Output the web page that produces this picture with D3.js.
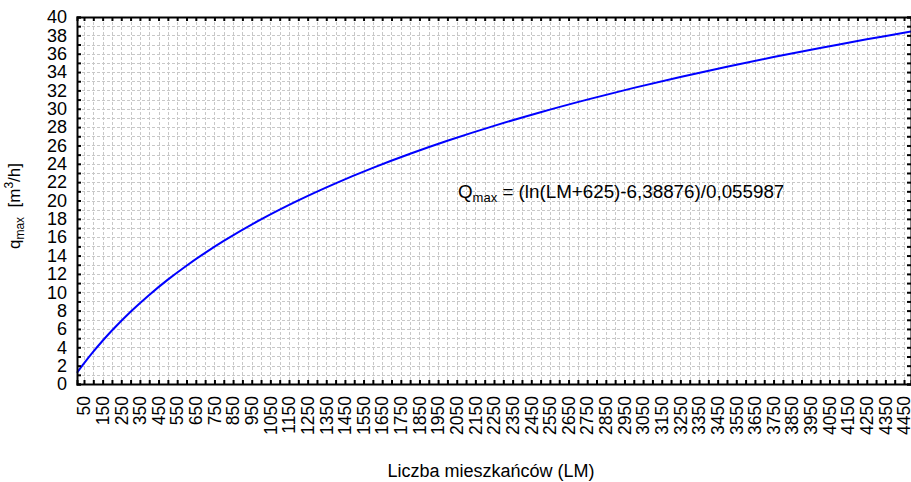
<!DOCTYPE html>
<html>
<head>
<meta charset="utf-8">
<script src="https://cdn.jsdelivr.net/npm/d3@7"></script>
<style>
  html, body { margin: 0; padding: 0; background: #fff; }
  svg { display: block; font-family: "Liberation Sans", Arial, sans-serif; }
</style>
</head>
<body>
<svg id="chart" width="911" height="482"></svg>
<script>
// Population equivalent (LM) and peak flow q_max [m3/h]
const lmValues = [12.5, 50, 100, 150, 200, 300, 400, 500, 600, 700, 800, 1000, 1200, 1400,
  1600, 1800, 2000, 2250, 2500, 2750, 3000, 3250, 3500, 3750, 4000, 4250, 4487.5];
const qValues = [1.229, 2.250, 3.526, 4.717, 5.834, 7.877, 9.711, 11.374, 12.895, 14.296,
  15.596, 17.942, 20.015, 21.872, 23.555, 25.092, 26.508, 28.132, 29.622, 30.996,
  32.273, 33.464, 34.581, 35.632, 36.624, 37.564, 38.414];

// Axis ticks and labels
const xDomain = [12.5, 4487.5];
const xTickLabels = [50, 150, 250, 350, 450, 550, 650, 750, 850, 950, 1050, 1150, 1250,
  1350, 1450, 1550, 1650, 1750, 1850, 1950, 2050, 2150, 2250, 2350, 2450, 2550, 2650,
  2750, 2850, 2950, 3050, 3150, 3250, 3350, 3450, 3550, 3650, 3750, 3850, 3950, 4050,
  4150, 4250, 4350, 4450];
const xMinorStep = 50;
const yDomain = [0, 40];
const yTickLabels = [0, 2, 4, 6, 8, 10, 12, 14, 16, 18, 20, 22, 24, 26, 28, 30, 32, 34, 36, 38, 40];

const xTitle = "Liczba mieszkańców (LM)";
const equation = { main: "Q", sub: "max", rest: " = (ln(LM+625)-6,38876)/0,055987" };

const plot = { left: 77, right: 911, top: 17, bottom: 384 };
const svg = d3.select("#chart");

const x = d3.scaleLinear().domain(xDomain).range([plot.left, plot.right]);
const y = d3.scaleLinear().domain(yDomain).range([plot.bottom, plot.top]);

// every grid step on x and y
const xGrid = [];
for (let v = xTickLabels[0]; v <= xDomain[1]; v += xMinorStep) xGrid.push(v);
const yGrid = d3.range(yDomain[0], yDomain[1] + 1, 1);

// dashed grid
const grid = svg.append("g").attr("stroke", "#c8c8c8").attr("stroke-width", 1)
  .attr("stroke-dasharray", "3,2").attr("shape-rendering", "crispEdges");
grid.selectAll("line.v").data(xGrid).join("line").attr("class", "v")
  .attr("x1", d => Math.round(x(d)) + 0.5).attr("x2", d => Math.round(x(d)) + 0.5)
  .attr("y1", plot.top).attr("y2", plot.bottom);
grid.selectAll("line.h").data(yGrid.filter(d => d > yDomain[0] && d < yDomain[1])).join("line").attr("class", "h")
  .attr("y1", d => Math.round(y(d)) + 0.5).attr("y2", d => Math.round(y(d)) + 0.5)
  .attr("x1", plot.left).attr("x2", plot.right);

// curve
const line = d3.line().x((d, i) => x(lmValues[i])).y(d => y(d)).curve(d3.curveCatmullRom.alpha(0.5));
svg.append("path").datum(qValues).attr("d", line)
  .attr("fill", "none").attr("stroke", "#0000ff").attr("stroke-width", 2);

// axes with inward ticks
const tickLen = 4;
const yAxis = d3.axisLeft(y).tickValues(yGrid).tickSize(-tickLen).tickPadding(10)
  .tickFormat(d => yTickLabels.includes(d) ? d : "");
const gy = svg.append("g").attr("transform", `translate(${plot.left},0)`).call(yAxis);

const xAxis = d3.axisBottom(x).tickValues(xGrid).tickSize(-tickLen).tickPadding(0)
  .tickFormat(d => xTickLabels.includes(d) ? d : "");
const gx = svg.append("g").attr("transform", `translate(0,${plot.bottom})`).call(xAxis);

const gTop = svg.append("g").attr("transform", `translate(0,${plot.top})`)
  .call(d3.axisTop(x).tickValues(xGrid).tickSize(-tickLen).tickFormat(""));
const gRight = svg.append("g").attr("transform", `translate(${plot.right},0)`)
  .call(d3.axisRight(y).tickValues(yGrid).tickSize(-tickLen).tickFormat(""));

[gx, gy, gTop, gRight].forEach(g => {
  g.select(".domain").attr("stroke", "#000").attr("stroke-width", 2);
  g.selectAll(".tick line").attr("stroke", "#000").attr("stroke-width", 2);
  g.selectAll("text").attr("font-size", 18).attr("fill", "#000")
    .attr("font-family", "'Liberation Sans', Arial, sans-serif");
});

// rotated x labels, reading upwards
gx.selectAll("text")
  .attr("y", 0).attr("x", 0).attr("dy", "0.33em")
  .attr("font-size", 17.5)
  .attr("text-anchor", "end")
  .attr("transform", "translate(0,12) rotate(-90)");

// axis titles
svg.append("text").attr("x", 491).attr("y", 477).attr("text-anchor", "middle")
  .attr("font-size", 18).text(xTitle);

const yt = svg.append("text").attr("transform", "translate(20,206) rotate(-90)")
  .attr("text-anchor", "middle").attr("font-size", 17);
yt.append("tspan").text("q");
yt.append("tspan").attr("font-size", 12).attr("dy", 4).text("max");
yt.append("tspan").attr("dy", -4).attr("xml:space", "preserve").text("  [m");
yt.append("tspan").attr("font-size", 12).attr("dy", -7).text("3");
yt.append("tspan").attr("dy", 7).text("/h]");

// equation label
const eq = svg.append("text").attr("x", 458).attr("y", 198).attr("font-size", 18.8);
eq.append("tspan").text(equation.main);
eq.append("tspan").attr("font-size", 13).attr("dy", 4).text(equation.sub);
eq.append("tspan").attr("dy", -4).text(equation.rest);
</script>
</body>
</html>
